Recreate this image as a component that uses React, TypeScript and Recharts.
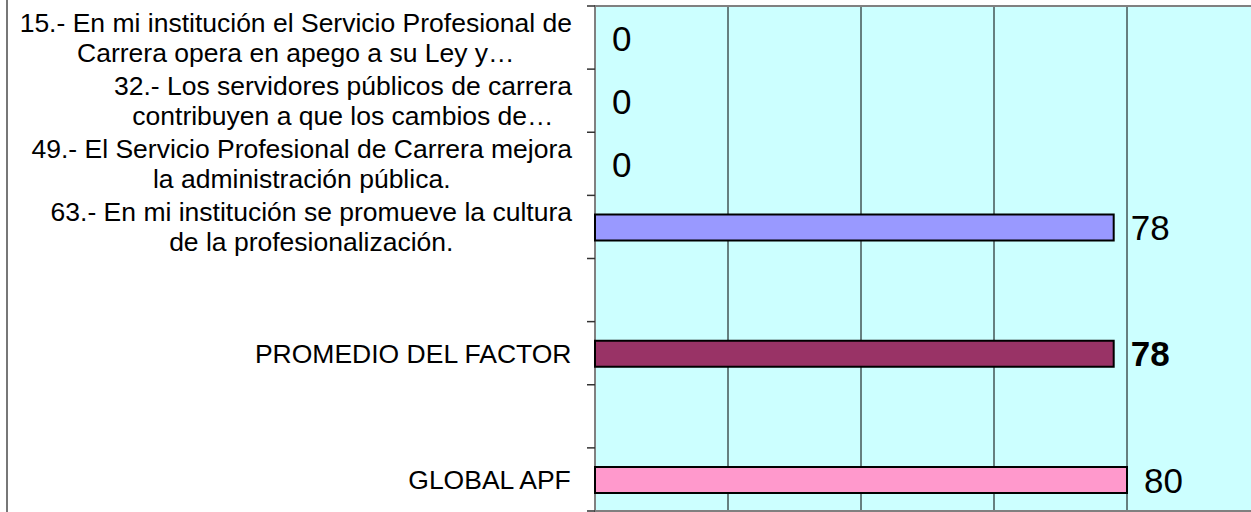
import React from "react";
import {
  Bar,
  CartesianGrid,
  Cell,
  ComposedChart,
  ReferenceArea,
  Scatter,
  XAxis,
  YAxis,
} from "recharts";

const categories = [
  "15.- En mi institución el Servicio Profesional de\nCarrera opera en apego a su Ley y…",
  "32.- Los servidores públicos de carrera\ncontribuyen a que los cambios de…",
  "49.- El Servicio Profesional de Carrera mejora\nla administración pública.",
  "63.- En mi institución se promueve la cultura\nde la profesionalización.",
  "",
  "PROMEDIO DEL FACTOR",
  " ",
  "GLOBAL APF",
];
const values: (number | null)[] = [0, 0, 0, 78, null, 78, null, 80];
const barColors = ["#9999ff", "#9999ff", "#9999ff", "#9999ff", "#9999ff", "#993366", "#9999ff", "#ff99cc"];
const boldRows = [false, false, false, false, false, true, false, false];
const xTicks = [0, 20, 40, 60, 80, 100];

const FONT = '"Liberation Sans", Arial, sans-serif';
const PLOT_TOP = 6;
const PLOT_H = 505;
const BAND = PLOT_H / categories.length;
const LABEL_RIGHT = 572;
const LABEL_SIZE = 26.5;

const data = categories.map((name, i) => ({ name, value: values[i], idx: i }));

let ctx: CanvasRenderingContext2D | null = null;
function textWidth(s: string) {
  if (!ctx) ctx = document.createElement("canvas").getContext("2d");
  if (!ctx) return s.length * LABEL_SIZE * 0.5;
  ctx.font = `${LABEL_SIZE}px ${FONT}`;
  return ctx.measureText(s).width;
}

function CategoryTick(props: any) {
  const { y, payload, index } = props;
  const axisX = 595;
  const lines = String(payload.value).trim() ? String(payload.value).split("\n") : [];
  const maxW = Math.max(0, ...lines.map(textWidth));
  const cx = LABEL_RIGHT - maxW / 2;
  const lineH = 30;
  const startY = y - ((lines.length - 1) * lineH) / 2;
  return (
    <g>
      <line x1={axisX - 8} x2={axisX} y1={y - BAND / 2} y2={y - BAND / 2} stroke="#333" strokeWidth={1.5} />
      {index === categories.length - 1 && (
        <line x1={axisX - 8} x2={axisX} y1={y + BAND / 2} y2={y + BAND / 2} stroke="#333" strokeWidth={1.5} />
      )}
      {lines.map((l, i) => (
        <text
          key={i}
          x={cx}
          y={startY + i * lineH}
          dy="0.36em"
          textAnchor="middle"
          fontSize={LABEL_SIZE}
          fontFamily={FONT}
          fill="#000"
        >
          {l}
        </text>
      ))}
    </g>
  );
}

function ValueLabel(props: any) {
  const { cx, cy, payload } = props;
  if (!payload || payload.value === null || payload.value === undefined) return null;
  if (!Number.isFinite(cx) || !Number.isFinite(cy)) return null;
  return (
    <text
      x={cx + 17}
      y={cy}
      dy="0.38em"
      fontSize={35}
      fontFamily={FONT}
      fontWeight={boldRows[payload.idx] ? "bold" : "normal"}
      fill="#000"
    >
      {payload.value}
    </text>
  );
}

export default function App() {
  return (
    <div
      style={{
        position: "absolute",
        left: 0,
        top: 0,
        width: 1251,
        height: 512,
        overflow: "hidden",
        background: "#fff",
        fontFamily: FONT,
      }}
    >
      <div style={{ position: "absolute", left: 6, top: 0, width: 2, height: 512, background: "#777" }} />
      <ComposedChart
        width={1262}
        height={PLOT_TOP + PLOT_H + 2}
        data={data}
        layout="vertical"
        margin={{ top: PLOT_TOP, right: 2, bottom: 2, left: 0 }}
        barSize={26}
      >
        <CartesianGrid fill="#ccffff" horizontal={false} stroke="#000" strokeWidth={1} />
        <XAxis type="number" dataKey="value" domain={[0, 100]} ticks={xTicks} hide />
        <YAxis
          dataKey="name"
          type="category"
          width={595}
          interval={0}
          axisLine={false}
          tickLine={false}
          tick={<CategoryTick />}
        />
        <ReferenceArea x1={0} x2={100} fill="none" stroke="#808080" strokeWidth={2} ifOverflow="visible" />
        <Bar dataKey="value" stroke="#000" strokeWidth={2} isAnimationActive={false}>
          {data.map((d, i) => (
            <Cell key={i} fill={barColors[i]} />
          ))}
        </Bar>
        <Scatter dataKey="value" shape={<ValueLabel />} isAnimationActive={false} />
      </ComposedChart>
    </div>
  );
}
